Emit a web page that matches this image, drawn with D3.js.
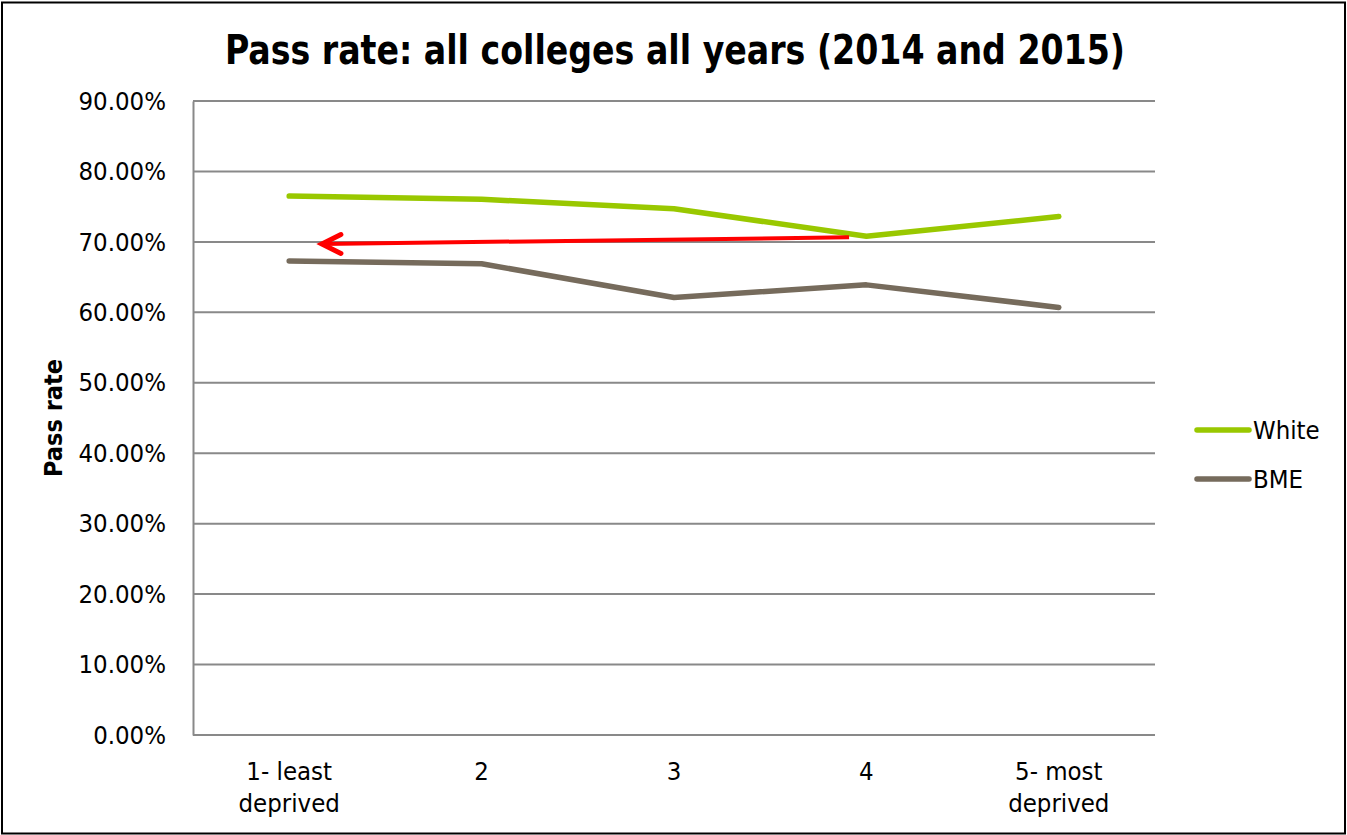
<!DOCTYPE html>
<html>
<head>
<meta charset="utf-8">
<script src="https://cdn.jsdelivr.net/npm/d3@7"></script>
<style>
  html, body { margin: 0; padding: 0; background: #fff; }
  svg { display: block; }
  text { font-family: "DejaVu Sans Condensed", "DejaVu Sans", sans-serif; fill: #000; }
</style>
</head>
<body>
<svg id="chart" width="1347" height="835"></svg>
<script>
// Deprivation quintiles (two-line labels)
const categories = ["1- least\ndeprived", "2", "3", "4", "5- most\ndeprived"];
// Pass rates per quintile
const whiteValues = [0.765, 0.7605, 0.747, 0.708, 0.736];
const bmeValues   = [0.673, 0.669, 0.621, 0.639, 0.607];
const seriesNames = ["White", "BME"];
const seriesColors = ["#99c800", "#766b5c"];
const yTicks = [0, 0.1, 0.2, 0.3, 0.4, 0.5, 0.6, 0.7, 0.8, 0.9];
// Annotation arrow, in [quintile index, pass rate]
const arrowStart = [2.91, 0.7065];
const arrowEnd   = [0.17, 0.697];

const W = 1347, H = 835;
const margin = { left: 193, right: 192, top: 101, bottom: 100 };
const svg = d3.select("#chart");

// Outer frame
svg.append("rect")
  .attr("x", 2).attr("y", 2.5)
  .attr("width", W - 4).attr("height", H - 4)
  .attr("fill", "#fff").attr("stroke", "#000").attr("stroke-width", 2);

const x = d3.scaleBand().domain(categories).range([margin.left, W - margin.right]);
const y = d3.scaleLinear().domain([0, 0.9]).range([H - margin.bottom, margin.top]);
const cx = c => x(c) + x.bandwidth() / 2;
const xi = d3.scaleLinear().domain([0, categories.length - 1])
  .range([cx(categories[0]), cx(categories[categories.length - 1])]);

// Horizontal gridlines
svg.append("g").selectAll("line").data(yTicks).join("line")
  .attr("x1", margin.left).attr("x2", W - margin.right)
  .attr("y1", d => y(d)).attr("y2", d => y(d))
  .attr("stroke", "#898989").attr("stroke-width", 2);

// Y axis
const yAxis = svg.append("g")
  .attr("transform", `translate(${margin.left},0)`)
  .call(d3.axisLeft(y).tickValues(yTicks).tickFormat(d3.format(".2%")).tickSize(0).tickPadding(27));
yAxis.select(".domain").attr("stroke", "#898989").attr("stroke-width", 2);
yAxis.selectAll("text").attr("font-size", 25.5).attr("font-family", null).attr("fill", "#000");

// X axis labels
const xLab = svg.append("g").selectAll("text").data(categories).join("text")
  .attr("text-anchor", "middle")
  .attr("font-size", 25.5)
  .attr("x", d => cx(d))
  .attr("y", 780);
xLab.each(function(d) {
  const parts = d.split("\n");
  d3.select(this).selectAll("tspan").data(parts).join("tspan")
    .attr("x", cx(d))
    .attr("dy", (p, i) => i === 0 ? 0 : 32)
    .text(p => p);
});

// Series lines
const line = d3.line().x((d, i) => xi(i)).y(d => y(d));
[whiteValues, bmeValues].forEach((vals, k) => {
  svg.append("path")
    .datum(vals)
    .attr("d", line)
    .attr("fill", "none")
    .attr("stroke", seriesColors[k])
    .attr("stroke-width", 5.5)
    .attr("stroke-linecap", "round")
    .attr("stroke-linejoin", "round");
});

// Annotation arrow
const ax1 = xi(arrowStart[0]), ay1 = y(arrowStart[1]);
const ax2 = xi(arrowEnd[0]), ay2 = y(arrowEnd[1]);
svg.append("line")
  .attr("x1", ax1).attr("y1", ay1).attr("x2", ax2).attr("y2", ay2)
  .attr("stroke", "#ff0000").attr("stroke-width", 4);
svg.append("path")
  .attr("d", `M${ax2 + 19},${ay2 - 9.5} L${ax2},${ay2} L${ax2 + 19},${ay2 + 9.5}`)
  .attr("fill", "none").attr("stroke", "#ff0000").attr("stroke-width", 5)
  .attr("stroke-linecap", "round").attr("stroke-linejoin", "miter");

// Legend
const legend = svg.append("g").selectAll("g").data(seriesNames).join("g")
  .attr("transform", (d, i) => `translate(1197,${430 + i * 49})`);
legend.append("line")
  .attr("x1", 0).attr("x2", 52).attr("y1", 0).attr("y2", 0)
  .attr("stroke", (d, i) => seriesColors[i]).attr("stroke-width", 5.5)
  .attr("stroke-linecap", "round");
legend.append("text")
  .attr("x", 56).attr("y", 0).attr("dy", "0.36em")
  .attr("font-size", 25.5)
  .text(d => d);

// Y axis title
svg.append("text")
  .attr("transform", `translate(62,${y(0.45)}) rotate(-90)`)
  .attr("text-anchor", "middle")
  .attr("font-size", 25).attr("font-weight", "bold")
  .text("Pass rate");

// Chart title
svg.append("text")
  .attr("x", 675).attr("y", 64)
  .attr("text-anchor", "middle")
  .attr("font-size", 40).attr("font-weight", "bold")
  .attr("textLength", 900).attr("lengthAdjust", "spacingAndGlyphs")
  .text("Pass rate: all colleges all years (2014 and 2015)");
</script>
</body>
</html>
